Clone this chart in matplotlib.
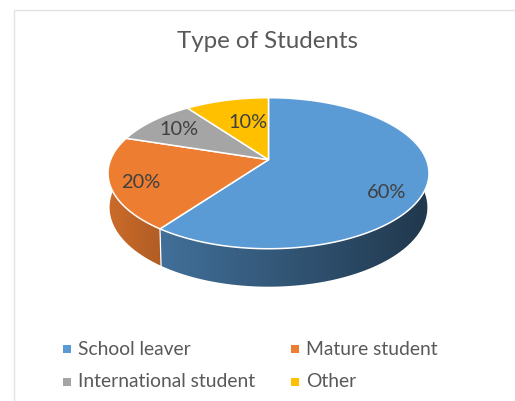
#!/usr/bin/env python3
import numpy as np
import matplotlib
matplotlib.use("Agg")
import matplotlib.pyplot as plt
from matplotlib.colors import LinearSegmentedColormap, to_rgb
from matplotlib.patches import PathPatch
from matplotlib.path import Path

title = "Type of Students"
categories = ["School leaver", "Mature student", "International student", "Other"]
shares = [60, 20, 10, 10]
top_colors = ["#5B9BD5", "#ED7D31", "#A5A5A5", "#FFC000"]

# wall shading as a multiple of the top colour, left end then right end
wall_shade = [(0.72, 0.36), (0.86, 0.74), (0.6, 0.6), (0.6, 0.6)]

W, H = 515, 402
CX, CY = 268.5, 160.7
# tilted disc: circle pushed through a projective map
K = 0.179
SX = 157.9
SY = 73.1
WALL_SCALE_X = 0.99
WALL_SCALE_Y = 1.05
WALL_DROP = 33.5

LABEL_POS = [(387, 192.5), (141, 182.5), (179, 129.5), (248, 122.5)]
LEGEND_POS = [(66.5, 350), (295, 350), (66.5, 382.5), (295, 382.5)]

TEXT_FONT = ["Lato", "DejaVu Sans"]
GREY = "#595959"


def rim(frac):
    # frac runs clockwise from twelve o'clock, returns offsets from the apex
    a = 2 * np.pi * np.asarray(frac)
    d = 1 + K * np.cos(a)
    return SX * np.sin(a) / d, -SY * np.cos(a) / d


def lower_rim(frac):
    x, y = rim(frac)
    return WALL_SCALE_X * x, WALL_SCALE_Y * y + WALL_DROP


def shaded(color, f):
    r, g, b = to_rgb(color)
    return (r * f, g * f, b * f)


def draw_wall(ax, start, end, color, shade):
    # horizontal gradient clipped to the band between the two rims
    ts = np.linspace(start, end, 200)
    xu, yu = rim(ts)
    xl, yl = lower_rim(ts)
    px = CX + np.r_[xu, xl[::-1]]
    py = CY + np.r_[yu, yl[::-1]]
    verts = np.column_stack([np.r_[px, px[0]], np.r_[py, py[0]]])
    clip = PathPatch(Path(verts, closed=True), facecolor="none", edgecolor="none",
                     transform=ax.transData)
    ax.add_patch(clip)
    cmap = LinearSegmentedColormap.from_list(
        "wall", [shaded(color, shade[0]), shaded(color, shade[1])])
    im = ax.imshow(np.linspace(0, 1, 256)[None, :], cmap=cmap, aspect="auto",
                   extent=(px.min(), px.max(), py.max(), py.min()), zorder=2)
    im.set_clip_path(clip)


def main():
    fig = plt.figure(figsize=(W / 100, H / 100), dpi=100)
    ax = fig.add_axes([0, 0, 1, 1])
    ax.axis("off")

    # chart border, only its top and left sides fall inside the image
    ax.plot([W, 13.5, 13.5], [10.5, 10.5, H], color="#E2E2E2", lw=1.0, zorder=1)

    fracs = np.cumsum([0] + shares) / sum(shares)

    for i in range(len(shares)):
        draw_wall(ax, fracs[i], fracs[i + 1], top_colors[i], wall_shade[i])

    # seam between the two visible wall pieces
    xu, yu = rim(fracs[1])
    xl, yl = lower_rim(fracs[1])
    ax.plot([CX + xu, CX + xl], [CY + yu, CY + yl], color="white", lw=0.9, zorder=3)

    for i in range(len(shares)):
        ts = np.linspace(fracs[i], fracs[i + 1], 200)
        x, y = rim(ts)
        ax.fill(np.r_[CX, CX + x], np.r_[CY, CY + y], facecolor=top_colors[i],
                edgecolor="white", lw=1.1, joinstyle="round", zorder=4)

    ax.text(267.5, 42, title, fontsize=17.4, color=GREY, family=TEXT_FONT,
            ha="center", va="center")

    for v, (x, y) in zip(shares, LABEL_POS):
        ax.text(x, y, "%d%%" % v, fontsize=14.4, color="#404040", family=TEXT_FONT,
                ha="center", va="center", zorder=5)

    for name, color, (x, y) in zip(categories, top_colors, LEGEND_POS):
        ax.scatter([x], [y], marker="s", s=33, color=color, lw=0, zorder=5)
        ax.text(x + 11.5, y - 0.5, name, fontsize=13.9, color=GREY, family=TEXT_FONT,
                ha="left", va="center")

    ax.set_xlim(0, W)
    ax.set_ylim(H, 0)
    fig.savefig("out.png", dpi=100, facecolor="white")


if __name__ == "__main__":
    main()
